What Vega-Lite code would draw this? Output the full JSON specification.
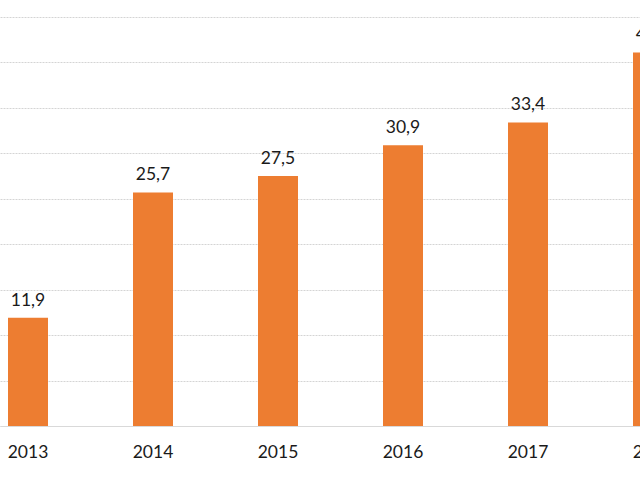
{
  "$schema": "https://vega.github.io/schema/vega-lite/v6.json",
  "width": 681,
  "height": 409,
  "autosize": {"type": "none"},
  "padding": {"top": 17, "left": 0, "right": 0, "bottom": 54},
  "background": "white",
  "config": {
    "view": {"stroke": null},
    "locale": {"number": {"decimal": ",", "thousands": ".", "grouping": [3], "currency": ["", " €"]}},
    "font": "Lato"
  },
  "data": {
    "values": [
      {"year": "2013", "value": 11.9},
      {"year": "2014", "value": 25.7},
      {"year": "2015", "value": 27.5},
      {"year": "2016", "value": 30.9},
      {"year": "2017", "value": 33.4},
      {"year": "2018", "value": 41.1}
    ]
  },
  "encoding": {
    "x": {
      "field": "year",
      "type": "ordinal",
      "scale": {"paddingInner": 0.68, "paddingOuter": 0.064, "align": 0.5},
      "axis": {
        "title": null,
        "labelAngle": 0,
        "ticks": false,
        "domainColor": "#d9d9d9",
        "labelFont": "Lato",
        "labelFontSize": 17.5,
        "labelColor": "#1a1a1a",
        "labelPadding": 17
      }
    },
    "y": {
      "field": "value",
      "type": "quantitative",
      "scale": {"domain": [0, 45], "nice": false},
      "axis": {
        "title": null,
        "labels": false,
        "ticks": false,
        "domain": false,
        "values": [0, 5, 10, 15, 20, 25, 30, 35, 40, 45],
        "gridColor": "#d4d4d4",
        "gridDash": [2, 1],
        "gridWidth": 1
      }
    }
  },
  "layer": [
    {"mark": {"type": "bar", "color": "#ED7D31"}},
    {
      "mark": {"type": "text", "baseline": "alphabetic", "dy": -12, "fontSize": 17.5, "font": "Lato", "color": "#1a1a1a"},
      "encoding": {"text": {"field": "value", "type": "quantitative", "format": ".1f"}}
    }
  ]
}
